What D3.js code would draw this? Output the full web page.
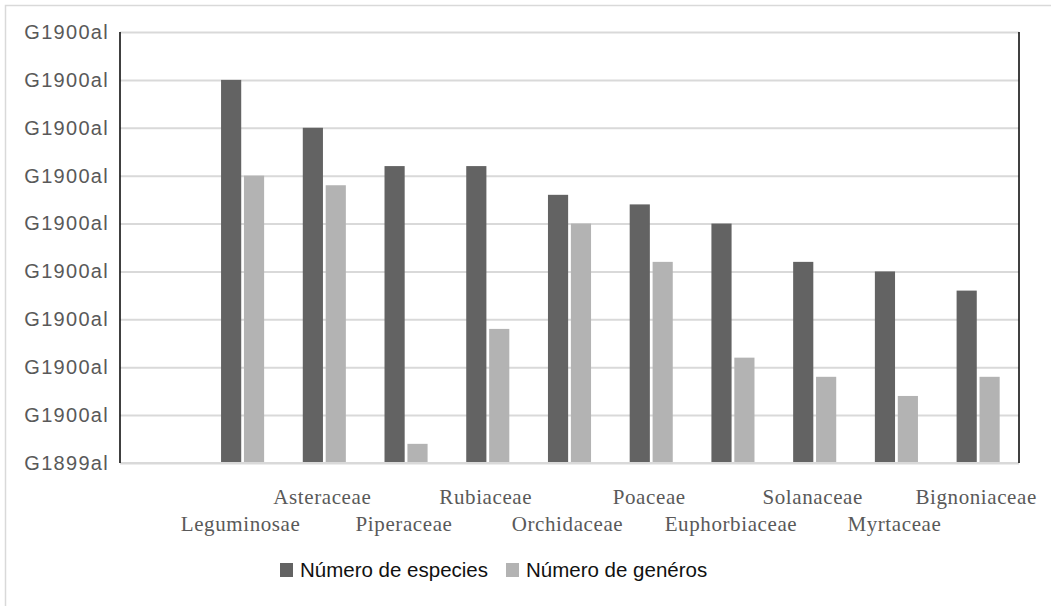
<!DOCTYPE html>
<html>
<head>
<meta charset="utf-8">
<script src="https://cdn.jsdelivr.net/npm/d3@7"></script>
<style>
  body { margin: 0; background: #fff; }
  svg { display: block; }
</style>
</head>
<body>
<div id="chart"></div>
<script>
// data (values in gridline units)
var categories = ['', 'Leguminosae', 'Asteraceae', 'Piperaceae', 'Rubiaceae', 'Orchidaceae',
  'Poaceae', 'Euphorbiaceae', 'Solanaceae', 'Myrtaceae', 'Bignoniaceae'];
var series = ['Número de especies', 'Número de genéros'];
var especies = [null, 8, 7, 6.2, 6.2, 5.6, 5.4, 5.0, 4.2, 4.0, 3.6];
var generos = [null, 6, 5.8, 0.4, 2.8, 5.0, 4.2, 2.2, 1.8, 1.4, 1.8];
var yTicks = [0, 1, 2, 3, 4, 5, 6, 7, 8, 9];
var yTickLabels = ['G1899al', 'G1900al', 'G1900al', 'G1900al', 'G1900al',
  'G1900al', 'G1900al', 'G1900al', 'G1900al', 'G1900al'];
var colors = ['#636363', '#b3b3b3'];

var w = 1051, h = 606;
var m = { top: 32, right: 32, bottom: 143, left: 120 };

var svg = d3.select('#chart').append('svg')
  .attr('width', w)
  .attr('height', h);

// chart border
svg.append('rect')
  .attr('x', 5.5).attr('y', 5.5)
  .attr('width', w + 10).attr('height', h + 10)
  .attr('fill', '#fff')
  .attr('stroke', '#d9d9d9')
  .attr('stroke-width', 1.5);

var x0 = d3.scaleBand()
  .domain(d3.range(categories.length))
  .range([m.left, w - m.right])
  .paddingInner(0.473)
  .paddingOuter(0.2365);
var x1 = d3.scaleBand()
  .domain(series)
  .range([0, x0.bandwidth()])
  .paddingInner(0.12);
var y = d3.scaleLinear()
  .domain([0, 9])
  .range([h - m.bottom, m.top]);

// gridlines
svg.append('g')
  .attr('class', 'grid')
  .attr('transform', 'translate(' + m.left + ',0)')
  .call(d3.axisLeft(y).tickValues(yTicks).tickSize(-(w - m.right - m.left)).tickFormat(''))
  .call(function(g) {
    g.select('.domain').remove();
    g.selectAll('line').attr('stroke', '#d9d9d9').attr('stroke-width', 2);
  });

// y axis labels
svg.append('g')
  .attr('transform', 'translate(' + m.left + ',0)')
  .call(d3.axisLeft(y).tickValues(yTicks).tickSize(0).tickPadding(11)
    .tickFormat(function(d, i) { return yTickLabels[i]; }))
  .call(function(g) {
    g.select('.domain').remove();
    g.selectAll('text')
      .attr('fill', '#595959')
      .style('font-family', '"Liberation Sans", Arial, sans-serif')
      .style('font-size', '20px')
      .style('letter-spacing', '1.3px');
  });

// bars
var rows = categories.map(function(c, i) {
  return { i: i, values: [especies[i], generos[i]] };
});
var groups = svg.append('g').selectAll('g')
  .data(rows)
  .join('g')
  .attr('transform', function(d) { return 'translate(' + x0(d.i) + ',0)'; });
groups.selectAll('rect')
  .data(function(d) {
    return d.values.map(function(v, k) { return { s: series[k], v: v, k: k }; })
      .filter(function(e) { return e.v != null; });
  })
  .join('rect')
  .attr('x', function(d) { return x1(d.s); })
  .attr('y', function(d) { return y(d.v); })
  .attr('width', x1.bandwidth())
  .attr('height', function(d) { return y(0) - y(d.v); })
  .attr('fill', function(d) { return colors[d.k]; });

// axis lines
svg.append('line')
  .attr('x1', m.left).attr('x2', w - m.right)
  .attr('y1', y(0)).attr('y2', y(0))
  .attr('stroke', '#d9d9d9').attr('stroke-width', 2);
svg.append('line')
  .attr('x1', m.left).attr('x2', m.left)
  .attr('y1', y(9)).attr('y2', y(0))
  .attr('stroke', '#000').attr('stroke-width', 1.5);
svg.append('line')
  .attr('x1', w - m.right).attr('x2', w - m.right)
  .attr('y1', y(9)).attr('y2', y(0))
  .attr('stroke', '#000').attr('stroke-width', 1.5);

// category labels, staggered in two rows
svg.append('g').selectAll('text')
  .data(rows.filter(function(d) { return categories[d.i] !== ''; }))
  .join('text')
  .attr('x', function(d) { return x0(d.i) + x0.bandwidth() / 2 - 2; })
  .attr('y', function(d) { return d.i % 2 === 1 ? 531 : 504; })
  .attr('text-anchor', 'middle')
  .attr('fill', '#595959')
  .style('font-family', '"Liberation Serif", "Times New Roman", serif')
  .style('font-size', '21px')
  .style('letter-spacing', '0.6px')
  .text(function(d) { return categories[d.i]; });

// legend
var legendX = [280, 506];
var legend = svg.append('g').selectAll('g')
  .data(series)
  .join('g')
  .attr('transform', function(d, i) { return 'translate(' + legendX[i] + ',563)'; });
legend.append('rect')
  .attr('width', 13).attr('height', 14)
  .attr('fill', function(d, i) { return colors[i]; });
legend.append('text')
  .attr('x', 20).attr('y', 14)
  .attr('fill', '#111')
  .style('font-family', '"Liberation Sans", Arial, sans-serif')
  .style('font-size', '20.5px')
  .text(function(d) { return d; });
</script>
</body>
</html>
